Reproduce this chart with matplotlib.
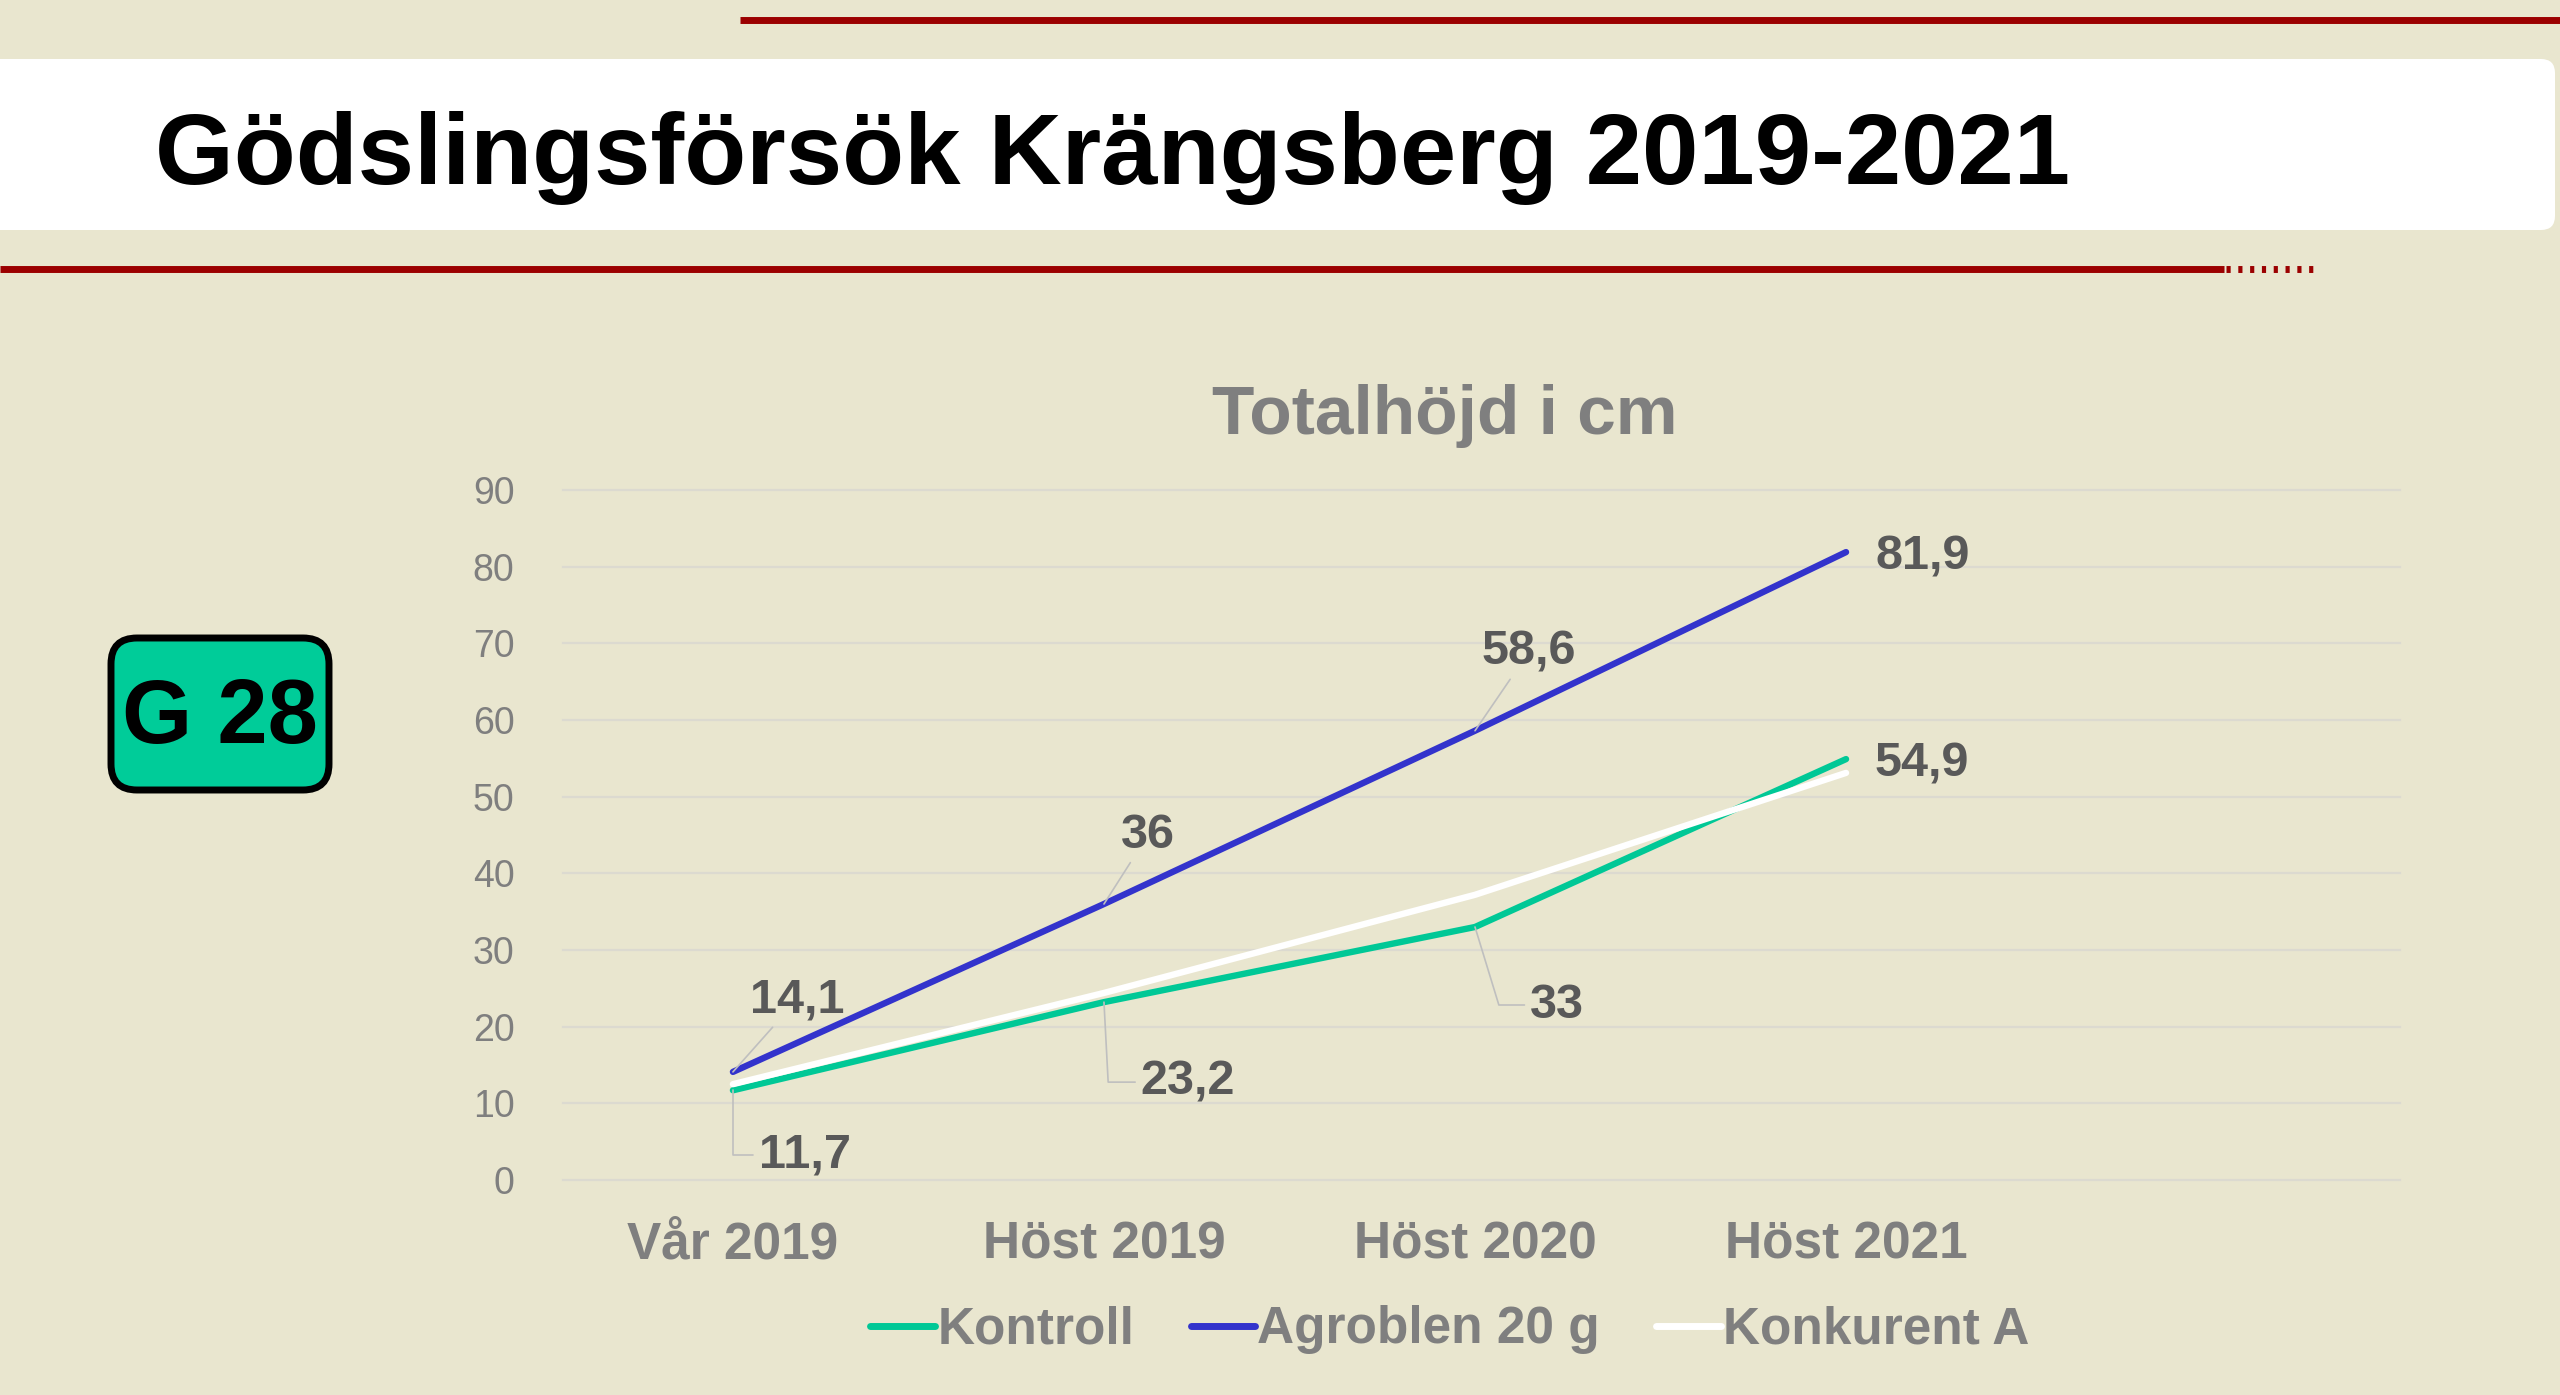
import matplotlib
matplotlib.use('Agg')
import matplotlib.pyplot as plt
from matplotlib.patches import FancyBboxPatch

plt.rcParams['font.family'] = ['Liberation Sans', 'DejaVu Sans']

# data
categories = ['Vår 2019', 'Höst 2019', 'Höst 2020', 'Höst 2021']
kontroll = [11.7, 23.2, 33, 54.9]
agroblen = [14.1, 36, 58.6, 81.9]
konkurent = [12.5, 24.4, 37.2, 53.1]
series_names = ['Kontroll', 'Agroblen 20 g', 'Konkurent A']
series_colors = ['#00C896', '#3333CC', '#FFFFFF']

page_title = 'Gödslingsförsök Krängsberg 2019-2021'
chart_title = 'Totalhöjd i cm'
badge_text = 'G 28'

bg = '#E9E6CF'
red = '#9B0000'
grey = '#7F7F7F'
label_grey = '#595959'

W, H = 2560, 1395
fig = plt.figure(figsize=(W / 100, H / 100), dpi=100, facecolor=bg)

# page decoration in pixel coordinates
deco = fig.add_axes([0, 0, 1, 1], zorder=0)
deco.set_xlim(0, W)
deco.set_ylim(H, 0)
deco.axis('off')
deco.add_patch(FancyBboxPatch((-60, 59), 2615, 171, boxstyle='round,pad=0,rounding_size=14',
                              facecolor='white', edgecolor='none'))
deco.plot([740, W], [20, 20], color=red, lw=5, solid_capstyle='butt')
deco.plot([0, 2224], [269, 269], color=red, lw=5, solid_capstyle='butt')
deco.plot([2226, 2315], [269, 269], color=red, lw=5, linestyle=(0, (0.6, 1.1)), solid_capstyle='butt')
deco.text(155, 184, page_title, fontsize=73, fontweight='bold', color='black', va='baseline', ha='left')

# G 28 badge
deco.add_patch(FancyBboxPatch((111, 638), 218, 152, boxstyle='round,pad=0,rounding_size=26',
                              facecolor='#00CC99', edgecolor='black', lw=5))
deco.text(220, 719, badge_text, fontsize=65, fontweight='bold', color='black', ha='center', va='center')

# chart axes: plot area from gridline 0 to 90
x0, x1, y_top, y_bot = 563, 2400, 490, 1180
ax = fig.add_axes([x0 / W, 1 - y_bot / H, (x1 - x0) / W, (y_bot - y_top) / H], zorder=1)
ax.patch.set_alpha(0)
for s in ax.spines.values():
    s.set_visible(False)

xs = list(range(len(categories)))
all_series = [kontroll, agroblen, konkurent]
for vals, name, col in zip(all_series, series_names, series_colors):
    ax.plot(xs, vals, color=col, lw=4.6, label=name, solid_capstyle='round', solid_joinstyle='round')

ax.set_ylim(0, 90)
ax.set_xlim(-0.458, 4.493)
ax.set_yticks(range(0, 91, 10))
ax.set_xticks(xs)
ax.set_xticklabels(categories, fontsize=37, fontweight='bold', color=grey)
ax.tick_params(axis='y', length=0, pad=35, labelsize=27, labelcolor=grey)
ax.tick_params(axis='x', length=0, pad=29)
ax.grid(axis='y', color='#DCDAD0', lw=1.6)
ax.set_axisbelow(True)
for gl in ax.get_ygridlines():
    gl.set_clip_on(False)

fig.text(1445 / W, 1 - 416 / H, chart_title, fontsize=50, fontweight='bold', color=grey, ha='center', va='center')

# data labels (offsets in pixels from the point)
def leader_props(style='arc3'):
    return dict(arrowstyle='-', color='#BFBFBF', lw=1.2, shrinkA=2, shrinkB=0, connectionstyle=style)

labels = [
    (0, agroblen[0], '14,1', (64, 72), 'arc3'),
    (0, kontroll[0], '11,7', (72, -65), 'angle,angleA=0,angleB=90,rad=0'),
    (1, agroblen[1], '36', (44, 69), 'arc3'),
    (1, kontroll[1], '23,2', (84, -80), 'angle,angleA=0,angleB=-87,rad=0'),
    (2, agroblen[2], '58,6', (54, 79), 'arc3'),
    (2, kontroll[2], '33', (82, -78), 'angle,angleA=0,angleB=-73,rad=0'),
]
for xi, v, txt, off, style in labels:
    ax.annotate(txt, xy=(xi, v), xytext=off, textcoords='offset pixels', ha='center', va='center',
                fontsize=35, fontweight='bold', color=label_grey, arrowprops=leader_props(style),
                annotation_clip=False)
for vals in [agroblen, kontroll]:
    ax.annotate(str(vals[-1]).replace('.', ','), xy=(3, vals[-1]), xytext=(29, -5), textcoords='offset pixels',
                ha='left', va='center', fontsize=35, fontweight='bold', color=label_grey)

leg = fig.legend(loc='center', bbox_to_anchor=(1450 / W, 1 - 1330 / H), ncol=3, frameon=False,
                 handlelength=1.25, handletextpad=0.05, columnspacing=1.1,
                 prop={'size': 37, 'weight': 'bold'})
for t in leg.get_texts():
    t.set_color(grey)
for h in leg.legend_handles:
    h.set_linewidth(5)

fig.savefig('out.png', dpi=100, facecolor=bg)
